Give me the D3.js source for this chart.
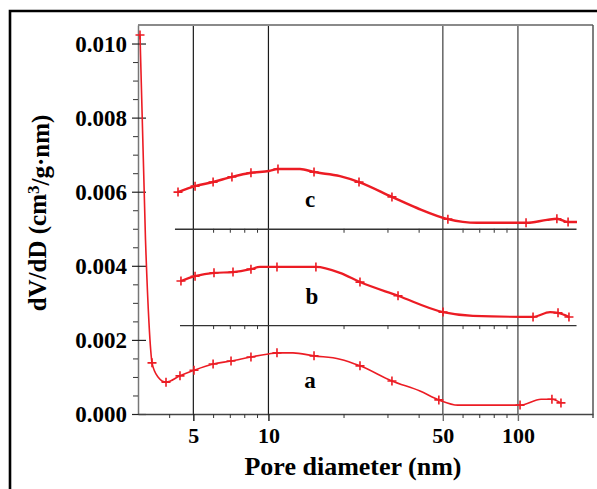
<!DOCTYPE html>
<html>
<head>
<meta charset="utf-8">
<script src="https://cdn.jsdelivr.net/npm/d3@7"></script>
<style>
  html, body { margin: 0; padding: 0; background: #fff; }
  svg { display: block; }
  text { font-family: "Liberation Serif", "Times New Roman", serif; font-weight: bold; fill: #000; }
</style>
</head>
<body>
<svg id="chart" width="597" height="489"></svg>
<script>
// Pore size distributions (BJH dV/dD) of three samples, stacked with vertical offsets.
// Values are the plotted ordinates (offset already included for b and c).
const diamA = [3.056, 3.215, 3.32, 3.373, 3.414, 3.608, 3.885, 4.42, 5.03, 6.0, 7.08, 8.51, 10.0, 10.82, 12.54, 15.23, 19.35, 23.28, 31.27, 40.5, 48.2, 57.5, 102, 123.8, 136.9, 148.8];
const dvdA  = [0.01023, 0.00470, 0.00246, 0.00173, 0.00138, 0.00100, 0.00086, 0.00103, 0.00118, 0.00135, 0.00143, 0.00154, 0.00162, 0.00165, 0.00165, 0.00157, 0.00148, 0.00130, 0.00089, 0.00062, 0.00038, 0.00024, 0.00024, 0.00040, 0.00040, 0.00030];
const markA = [1,0,0,0,1,0,1,1,1,1,1,1,0,1,0,1,0,1,1,0,1,0,1,0,1,1];

const diamB = [4.46, 5.08, 6.05, 7.21, 8.51, 9.25, 10.82, 15.5, 19.35, 23.28, 33.07, 50.1, 66.0, 115, 134.5, 144.8, 160.2];
const dvdB  = [0.00359, 0.00372, 0.00381, 0.00383, 0.00391, 0.00397, 0.00397, 0.00397, 0.00381, 0.00356, 0.00319, 0.00275, 0.00265, 0.00262, 0.00275, 0.00273, 0.00262];
const markB = [1,1,1,1,1,0,1,1,0,1,1,1,0,1,0,1,1];

const diamC = [4.34, 5.08, 6.0, 7.14, 8.51, 10.05, 10.92, 13.38, 15.23, 19.35, 23.07, 31.27, 39.4, 52.4, 68.5, 107.8, 130.8, 143.3, 158.9, 172.5];
const dvdC  = [0.00599, 0.00615, 0.00626, 0.00640, 0.00651, 0.00656, 0.00661, 0.00661, 0.00653, 0.00642, 0.00626, 0.00586, 0.00556, 0.00526, 0.00516, 0.00516, 0.00524, 0.00527, 0.00518, 0.00518];
const markC = [1,1,1,1,1,0,1,0,1,0,1,1,0,1,0,1,0,1,1,0];

const seriesNames = ["a", "b", "c"];
const baselines = [0, 0.0024, 0.005];          // zero level of each stacked curve
const baselineStart = [null, 4.4, 4.2];        // left end of the b / c zero lines (nm)
const baselineEnd = 171;                        // right end of the b / c zero lines (nm)

const yTicks = [0, 0.002, 0.004, 0.006, 0.008, 0.010];
const yMinor = d3.range(0, 0.0105, 0.0005).filter(v => Math.abs(v / 0.002 - Math.round(v / 0.002)) > 1e-6);
const xTicks = [5, 10, 50, 100];
const xMinor = [4, 6, 7, 8, 9, 20, 30, 40, 60, 70, 80, 90];

const xTitle = "Pore diameter (nm)";

// ---------------------------------------------------------------
const svg = d3.select("#chart");
const W = 597, H = 489;
const plot = { left: 138, right: 593, top: 25, bottom: 414 };

svg.append("rect").attr("width", W).attr("height", H).attr("fill", "#fff");

const x = d3.scaleLog().domain([3, 200]).range([plot.left, plot.right]);
const y = d3.scaleLinear().domain([0, 0.0105]).range([plot.bottom, plot.top]);

// outer frame (top and left edges)
svg.append("path")
  .attr("d", `M10,${H} L10,11 L${W},11`)
  .attr("fill", "none").attr("stroke", "#000").attr("stroke-width", 2.6);

// vertical reference lines at major diameters
svg.append("g").selectAll("line").data(xTicks).join("line")
  .attr("x1", d => x(d)).attr("x2", d => x(d))
  .attr("y1", plot.top).attr("y2", plot.bottom)
  .attr("stroke", d => d < 20 ? "#1a1a1a" : "#6e6e6e")
  .attr("stroke-width", d => d < 20 ? 1.2 : 1.6);

// plot box: top and right edges
svg.append("line").attr("x1", plot.left).attr("x2", plot.right)
  .attr("y1", plot.top).attr("y2", plot.top)
  .attr("stroke", "#8a8a8a").attr("stroke-width", 2);
svg.append("line").attr("x1", plot.right).attr("x2", plot.right)
  .attr("y1", plot.top).attr("y2", plot.bottom + 4)
  .attr("stroke", "#555").attr("stroke-width", 1.5);

// y axis: major ticks cross the axis line, minor ticks point outward
const yAxis = svg.append("g").attr("transform", `translate(${plot.left},0)`)
  .call(d3.axisLeft(y).tickValues(yTicks).tickFormat(d3.format(".3f"))
    .tickSizeInner(6).tickSizeOuter(0).tickPadding(5));
yAxis.select(".domain").attr("stroke", "#777").attr("stroke-width", 1.5);
yAxis.selectAll(".tick line").attr("x2", 8).attr("x1", -6).attr("stroke", "#222").attr("stroke-width", 1.2);
yAxis.selectAll(".tick text").style("font-size", "23px").attr("fill", "#000").attr("dy", "0.34em");

const yAxisMinor = svg.append("g").attr("transform", `translate(${plot.left},0)`)
  .call(d3.axisLeft(y).tickValues(yMinor).tickFormat("").tickSizeInner(5).tickSizeOuter(0));
yAxisMinor.select(".domain").remove();
yAxisMinor.selectAll(".tick line").attr("stroke", "#333").attr("stroke-width", 1);

// x axis
const xAxis = svg.append("g").attr("transform", `translate(0,${plot.bottom})`)
  .call(d3.axisBottom(x).tickValues(xTicks).tickFormat(d3.format("d"))
    .tickSizeInner(7).tickSizeOuter(0).tickPadding(6));
xAxis.select(".domain").attr("stroke", "#444").attr("stroke-width", 1.5);
xAxis.selectAll(".tick line").attr("stroke", d => d < 20 ? "#1a1a1a" : "#6e6e6e").attr("stroke-width", 1.4);
xAxis.selectAll(".tick text").style("font-size", "22px").attr("fill", "#000");

const xAxisMinor = svg.append("g").attr("transform", `translate(0,${plot.bottom})`)
  .call(d3.axisBottom(x).tickValues(xMinor).tickFormat("").tickSizeInner(4).tickSizeOuter(0));
xAxisMinor.select(".domain").remove();
xAxisMinor.selectAll(".tick line").attr("stroke", "#333").attr("stroke-width", 1);

// zero lines for the offset curves b and c, with minor ticks
[1, 2].forEach(i => {
  const g = svg.append("g").attr("transform", `translate(0,${y(baselines[i])})`);
  const sub = d3.scaleLog().domain([baselineStart[i], baselineEnd])
    .range([x(baselineStart[i]), x(baselineEnd)]);
  g.call(d3.axisBottom(sub).tickValues(xMinor.filter(v => v > baselineStart[i]))
    .tickFormat("").tickSizeInner(4).tickSizeOuter(0));
  g.select(".domain").attr("stroke", "#333").attr("stroke-width", 1.3);
  g.selectAll(".tick line").attr("stroke", "#333").attr("stroke-width", 1);
});

// curves
const series = [
  { name: seriesNames[0], d: diamA, v: dvdA, m: markA, w: 1.6 },
  { name: seriesNames[1], d: diamB, v: dvdB, m: markB, w: 2.2 },
  { name: seriesNames[2], d: diamC, v: dvdC, m: markC, w: 2.5 }
];
const red = "#ec1c24";
const line = d3.line().x(p => x(p[0])).y(p => y(p[1])).curve(d3.curveMonotoneX);
const plusMark = {
  draw(ctx) { ctx.moveTo(-4.5, 0); ctx.lineTo(4.5, 0); ctx.moveTo(0, -4.5); ctx.lineTo(0, 4.5); }
};

series.forEach(s => {
  const pts = s.d.map((d, i) => [d, s.v[i], s.m[i]]);
  svg.append("path").datum(pts)
    .attr("d", line)
    .attr("fill", "none").attr("stroke", red).attr("stroke-width", s.w)
    .attr("stroke-linejoin", "round");
  svg.append("g").selectAll("path").data(pts.filter(p => p[2]))
    .join("path")
    .attr("d", d3.symbol(plusMark, 1))
    .attr("transform", p => `translate(${x(p[0])},${y(p[1])})`)
    .attr("fill", "none").attr("stroke", red).attr("stroke-width", 1.6);
});

// curve labels
const labelPos = [[14.68, 0.00070], [14.95, 0.00297], [14.68, 0.00559]];
svg.append("g").selectAll("text").data(series).join("text")
  .attr("x", (s, i) => x(labelPos[i][0]))
  .attr("y", (s, i) => y(labelPos[i][1]))
  .attr("text-anchor", "middle")
  .style("font-size", "23px")
  .text(s => s.name);

// axis titles
svg.append("text")
  .attr("x", 353).attr("y", 475)
  .attr("text-anchor", "middle")
  .style("font-size", "26px")
  .text(xTitle);

const yt = svg.append("text")
  .attr("transform", "translate(46,213) rotate(-90)")
  .attr("text-anchor", "middle")
  .style("font-size", "25px");
yt.append("tspan").text("dV/dD (cm");
yt.append("tspan").attr("dy", "-0.42em").style("font-size", "17px").text("3");
yt.append("tspan").attr("dy", "0.42em").text("/g\u00B7nm)");
</script>
</body>
</html>
